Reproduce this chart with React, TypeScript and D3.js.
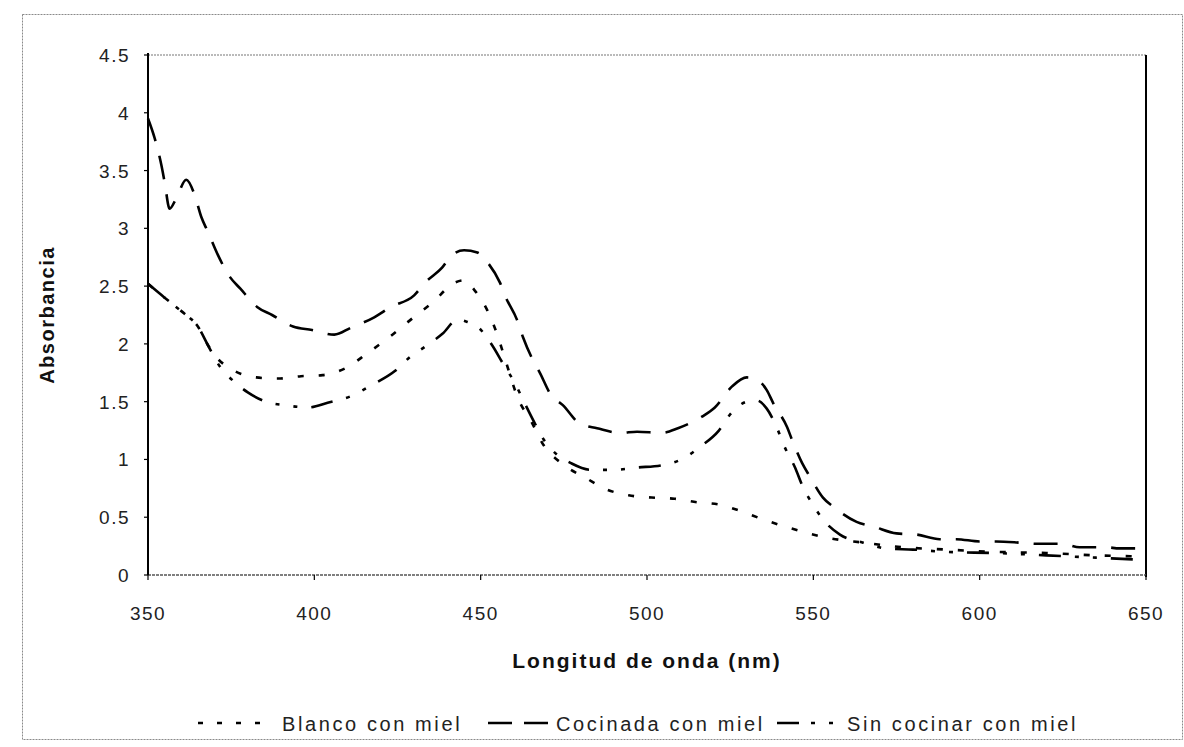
import React from 'react';
import * as d3 from 'd3';

const xTicks = [350, 400, 450, 500, 550, 600, 650];
const yTicks = [0, 0.5, 1, 1.5, 2, 2.5, 3, 3.5, 4, 4.5];

const seriesNames = ['Blanco con miel', 'Cocinada con miel', 'Sin cocinar con miel'];

const blancoWl = [350, 355, 358, 361, 365, 368, 371, 374, 378, 382.5, 389, 396, 402.5, 409.4, 416, 422.6, 429, 435.6, 442.2, 445, 448, 452, 455, 457, 461.5, 465, 469, 474.6, 481.6, 487.9, 494.5, 501.4, 508.3, 515, 521.6, 528.5, 535, 541.4, 548.6, 554.6, 565, 577, 590, 605, 620, 635, 650];
const blancoAbs = [2.52, 2.4, 2.33, 2.26, 2.15, 1.99, 1.87, 1.8, 1.74, 1.71, 1.7, 1.72, 1.73, 1.79, 1.92, 2.06, 2.21, 2.36, 2.53, 2.55, 2.47, 2.29, 2.08, 1.9, 1.51, 1.34, 1.12, 0.96, 0.84, 0.74, 0.69, 0.67, 0.66, 0.63, 0.61, 0.55, 0.48, 0.42, 0.36, 0.32, 0.28, 0.24, 0.22, 0.2, 0.19, 0.17, 0.16];

const cocinadaWl = [350, 352, 354, 355, 356.5, 358.5, 361.5, 364, 366, 368, 371, 374.6, 377.7, 382.8, 387.3, 393.6, 399.3, 406, 411, 418, 423, 430, 433.3, 438.4, 441.4, 445, 449, 452.2, 455.8, 457.6, 460.9, 462.7, 465.7, 467.8, 471.1, 474.7, 479.8, 485, 492, 497, 504.5, 509.3, 516.5, 520.4, 525.5, 530, 533, 536, 537.9, 542.1, 543.6, 546.6, 549, 552.9, 556.5, 563, 568, 575, 581, 588, 593, 600, 605, 612, 617, 625, 630, 638, 642, 650];
const cocinadaAbs = [3.95, 3.78, 3.55, 3.4, 3.17, 3.26, 3.42, 3.29, 3.1, 2.97, 2.77, 2.58, 2.48, 2.32, 2.25, 2.15, 2.12, 2.08, 2.14, 2.23, 2.32, 2.42, 2.53, 2.66, 2.77, 2.81, 2.79, 2.7, 2.53, 2.4, 2.21, 2.06, 1.86, 1.75, 1.56, 1.47, 1.31, 1.27, 1.23, 1.24, 1.23, 1.27, 1.37, 1.45, 1.63, 1.71, 1.69, 1.6, 1.49, 1.28, 1.17, 0.97, 0.85, 0.67, 0.58, 0.46, 0.42, 0.36, 0.35, 0.31, 0.31, 0.29, 0.29, 0.28, 0.27, 0.27, 0.24, 0.24, 0.23, 0.23];

const sinCocinarWl = [350, 355, 358, 361, 365, 368, 371, 376, 380, 386.5, 391, 398, 404, 412, 417, 424.4, 428.5, 434, 438.6, 443, 446, 449, 453.4, 456.7, 460.3, 463, 466.5, 469, 473, 477, 483, 490, 497, 504.5, 511, 516, 521.6, 525.3, 530, 533, 536, 539.4, 541.5, 544.5, 546.6, 550.5, 553.5, 558, 565, 572, 580, 590, 605, 620, 635, 650];
const sinCocinarAbs = [2.52, 2.4, 2.33, 2.26, 2.15, 1.99, 1.83, 1.67, 1.58, 1.49, 1.47, 1.45, 1.49, 1.56, 1.64, 1.77, 1.88, 1.99, 2.09, 2.21, 2.19, 2.15, 1.99, 1.83, 1.66, 1.5, 1.3, 1.17, 1.04, 0.97, 0.91, 0.91, 0.93, 0.95, 1.01, 1.11, 1.25, 1.4, 1.5, 1.51, 1.44, 1.25, 1.1, 0.93, 0.78, 0.58, 0.46, 0.35, 0.28, 0.23, 0.22, 0.2, 0.19, 0.17, 0.15, 0.13];

const FONT = '"Liberation Sans", Arial, Helvetica, sans-serif';

const dashes = ['6 15', '24 15', '22 14 4 14 4 14'];
const legendDashes = ['5 14', '24 12', '22 12 4 14 4 14'];

export default function App() {
  const W = 1184;
  const H = 747;
  const left = 148, right = 1146, top = 55, bottom = 575;
  const x = d3.scaleLinear().domain([350, 650]).range([left, right]);
  const y = d3.scaleLinear().domain([0, 4.5]).range([bottom, top]);
  const line = d3
    .line<[number, number]>()
    .x((d) => x(d[0]))
    .y((d) => y(d[1]))
    .curve(d3.curveMonotoneX);

  const series = [
    { name: seriesNames[0], pts: blancoWl.map((w, i) => [w, blancoAbs[i]] as [number, number]) },
    { name: seriesNames[1], pts: cocinadaWl.map((w, i) => [w, cocinadaAbs[i]] as [number, number]) },
    { name: seriesNames[2], pts: sinCocinarWl.map((w, i) => [w, sinCocinarAbs[i]] as [number, number]) },
  ];

  const legendSym = [
    [198, 274],
    [488, 550],
    [777, 840],
  ];
  const legendText = [282, 556, 847];
  const legendY = 724;

  return (
    <svg
      width={W}
      height={H}
      style={{ position: 'absolute', left: 0, top: 0, background: '#fff' }}
      fontFamily={FONT}
    >
      <rect x={0} y={0} width={W} height={H} fill="#fff" />
      {/* outer chart frame */}
      <rect x={22.5} y={14.5} width={1160} height={725} fill="none" stroke="#8a8a8a" strokeWidth={1} strokeDasharray="2 1" />

      {/* plot area border */}
      <line x1={left} x2={right} y1={top} y2={top} stroke="#777" strokeWidth={1.2} strokeDasharray="2 1" />
      <line x1={right} x2={right} y1={top} y2={bottom + 2} stroke="#000" strokeWidth={2} />

      {/* x axis */}
      <line x1={left} x2={right} y1={bottom} y2={bottom} stroke="#555" strokeWidth={1.3} strokeDasharray="3 1" />
      {xTicks.map((t) => (
        <g key={'xt' + t}>
          <line x1={x(t)} x2={x(t)} y1={bottom} y2={bottom + 5} stroke="#000" strokeWidth={1.2} />
          <text x={x(t)} y={620} textAnchor="middle" fontSize={19} letterSpacing={1.5} fill="#222">
            {String(t)}
          </text>
        </g>
      ))}

      {/* y axis */}
      <line x1={left} x2={left} y1={top - 2} y2={bottom} stroke="#000" strokeWidth={2} />
      {yTicks.map((t) => (
        <g key={'yt' + t}>
          <line x1={left - 4} x2={left} y1={y(t)} y2={y(t)} stroke="#000" strokeWidth={1.2} />
          <text x={130} y={y(t) + 7} textAnchor="end" fontSize={19} letterSpacing={1.5} fill="#222">
            {String(t)}
          </text>
        </g>
      ))}

      {/* axis titles */}
      <text
        transform={`translate(54, ${(top + bottom) / 2}) rotate(-90)`}
        textAnchor="middle"
        fontSize={20}
        fontWeight="bold"
        letterSpacing={1.5}
        fill="#111"
      >
        Absorbancia
      </text>
      <text x={(left + right) / 2} y={668} textAnchor="middle" fontSize={21} fontWeight="bold" letterSpacing={2} fill="#111">
        Longitud de onda (nm)
      </text>

      {/* series */}
      {series.map((s, i) => (
        <path
          key={s.name}
          d={line(s.pts) || ''}
          fill="none"
          stroke="#000"
          strokeWidth={2.6}
          strokeDasharray={dashes[i]}
        />
      ))}

      {/* legend */}
      {series.map((s, i) => (
        <g key={'lg' + s.name}>
          <line
            x1={legendSym[i][0]}
            x2={legendSym[i][1]}
            y1={legendY - 1}
            y2={legendY - 1}
            stroke="#000"
            strokeWidth={2.4}
            strokeDasharray={legendDashes[i]}
          />
          <text x={legendText[i]} y={legendY + 7} fontSize={20} letterSpacing={2.6} fill="#222">
            {s.name}
          </text>
        </g>
      ))}
    </svg>
  );
}
